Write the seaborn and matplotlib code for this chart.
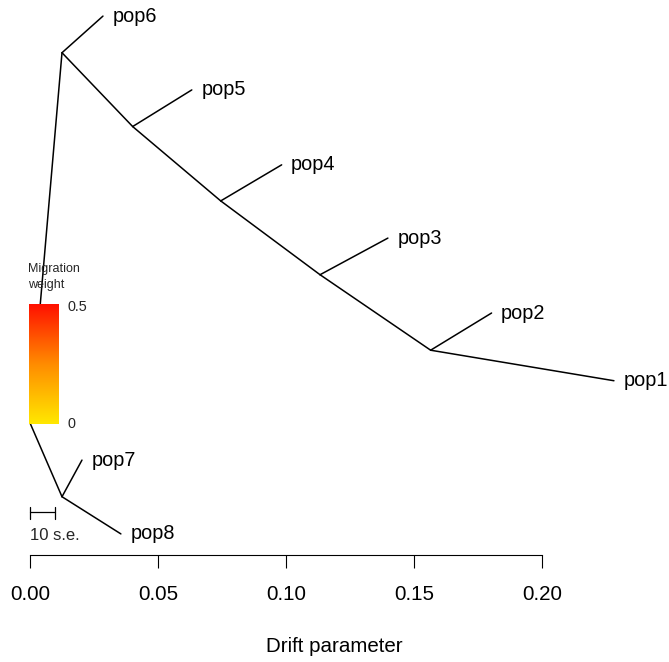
import numpy as np
import pandas as pd
import matplotlib
matplotlib.use("Agg")
import matplotlib.pyplot as plt
from matplotlib.colors import LinearSegmentedColormap
import seaborn as sns

# ---- data: tree nodes (drift, vertical position) ----
node_names = ["root", "nA", "pop7", "pop8", "nB", "pop6", "nC", "pop5",
              "nD", "pop4", "nE", "pop3", "nF", "pop2", "pop1"]
node_drift = [0.0, 0.0125, 0.0203, 0.0355, 0.0125, 0.0285, 0.0401, 0.0632,
              0.0745, 0.0983, 0.1133, 0.1398, 0.1565, 0.1803, 0.2281]
node_ypos = [0.238, 0.105, 0.171, 0.038, 0.905, 0.971, 0.772, 0.838,
             0.638, 0.703, 0.505, 0.571, 0.369, 0.436, 0.314]
edge_parent = ["root", "nA", "nA", "root", "nB", "nB", "nC", "nC", "nD", "nD", "nE", "nE", "nF", "nF"]
edge_child = ["nA", "pop7", "pop8", "nB", "pop6", "nC", "pop5", "nD", "pop4", "nE", "pop3", "nF", "pop2", "pop1"]
tip_labels = ["pop1", "pop2", "pop3", "pop4", "pop5", "pop6", "pop7", "pop8"]

x_ticks = [0.00, 0.05, 0.10, 0.15, 0.20]
x_tick_labels = ["0.00", "0.05", "0.10", "0.15", "0.20"]
se_bar = 0.00098          # one standard error in drift units
se_mult = 10
mig_range = [0, 0.5]

# ---- build tables ----
nodes = pd.DataFrame({"name": node_names, "drift": node_drift, "y": node_ypos}).set_index("name")
rows = []
for i, (p, c) in enumerate(zip(edge_parent, edge_child)):
    rows.append({"edge": i, "drift": nodes.loc[p, "drift"], "y": nodes.loc[p, "y"]})
    rows.append({"edge": i, "drift": nodes.loc[c, "drift"], "y": nodes.loc[c, "y"]})
edges = pd.DataFrame(rows)

sns.set_theme(style="white")
plt.rcParams["font.family"] = ["Liberation Sans", "DejaVu Sans"]

W, H, DPI = 669, 662, 100
fig = plt.figure(figsize=(W / DPI, H / DPI), dpi=DPI)
ax_bottom_px = 555
ax = fig.add_axes([0, (H - ax_bottom_px) / H, 1, ax_bottom_px / H])
px_per_unit = 2560
x0_px = 30

sns.lineplot(data=edges, x="drift", y="y", units="edge", estimator=None, sort=False,
             color="black", linewidth=1.1, legend=False, ax=ax)

# tip labels
for lab in tip_labels:
    ax.text(nodes.loc[lab, "drift"] + 0.0037, nodes.loc[lab, "y"], lab,
            fontsize=14.3, ha="left", va="center", color="black")

# migration weight colour legend
cmap = LinearSegmentedColormap.from_list("mig", ["#FFE800", "#FF8C00", "#FF1000"])
grad = np.linspace(0, 1, 256).reshape(-1, 1)
def py(pix):
    return (ax_bottom_px - pix) / ax_bottom_px
def px(pix):
    return (pix - x0_px) / px_per_unit
ax.imshow(grad, cmap=cmap, origin="lower", aspect="auto",
          extent=[px(29), px(59), py(424), py(304)], zorder=5)
ax.text(px(67), py(307), f"{mig_range[1]}", fontsize=10.4, ha="left", va="center")
ax.text(px(67), py(424), f"{mig_range[0]}", fontsize=10.4, ha="left", va="center")
ax.text(px(28), py(277), "Migration\nweight", fontsize=9, ha="left", va="center", linespacing=1.45)

# scale bar (10 s.e.)
sb_len = se_bar * se_mult
yb = py(512)
ax.plot([0, sb_len], [yb, yb], color="black", lw=0.9)
for xe in [0, sb_len]:
    ax.plot([xe, xe], [py(507), py(519)], color="black", lw=0.9)
ax.text(0, py(536), f"{se_mult} s.e.", fontsize=12, ha="left", va="center")

# axis
ax.set_xlim(-x0_px / px_per_unit, (W - x0_px) / px_per_unit)
ax.set_ylim(0, 1)
for s in ["top", "right", "left"]:
    ax.spines[s].set_visible(False)
ax.spines["bottom"].set_bounds(x_ticks[0], x_ticks[-1])
ax.spines["bottom"].set_color("black")
ax.spines["bottom"].set_linewidth(0.8)
ax.set_xticks(x_ticks)
ax.set_xticklabels(x_tick_labels, fontsize=14.8)
ax.tick_params(axis="x", bottom=True, direction="out", length=9.4, width=0.8, pad=12, colors="black")
ax.set_yticks([])
ax.set_xlabel("Drift parameter", fontsize=14.8, labelpad=24, color="black")
ax.set_ylabel("")
ax.patch.set_alpha(0)

fig.savefig("out.png", dpi=DPI)
